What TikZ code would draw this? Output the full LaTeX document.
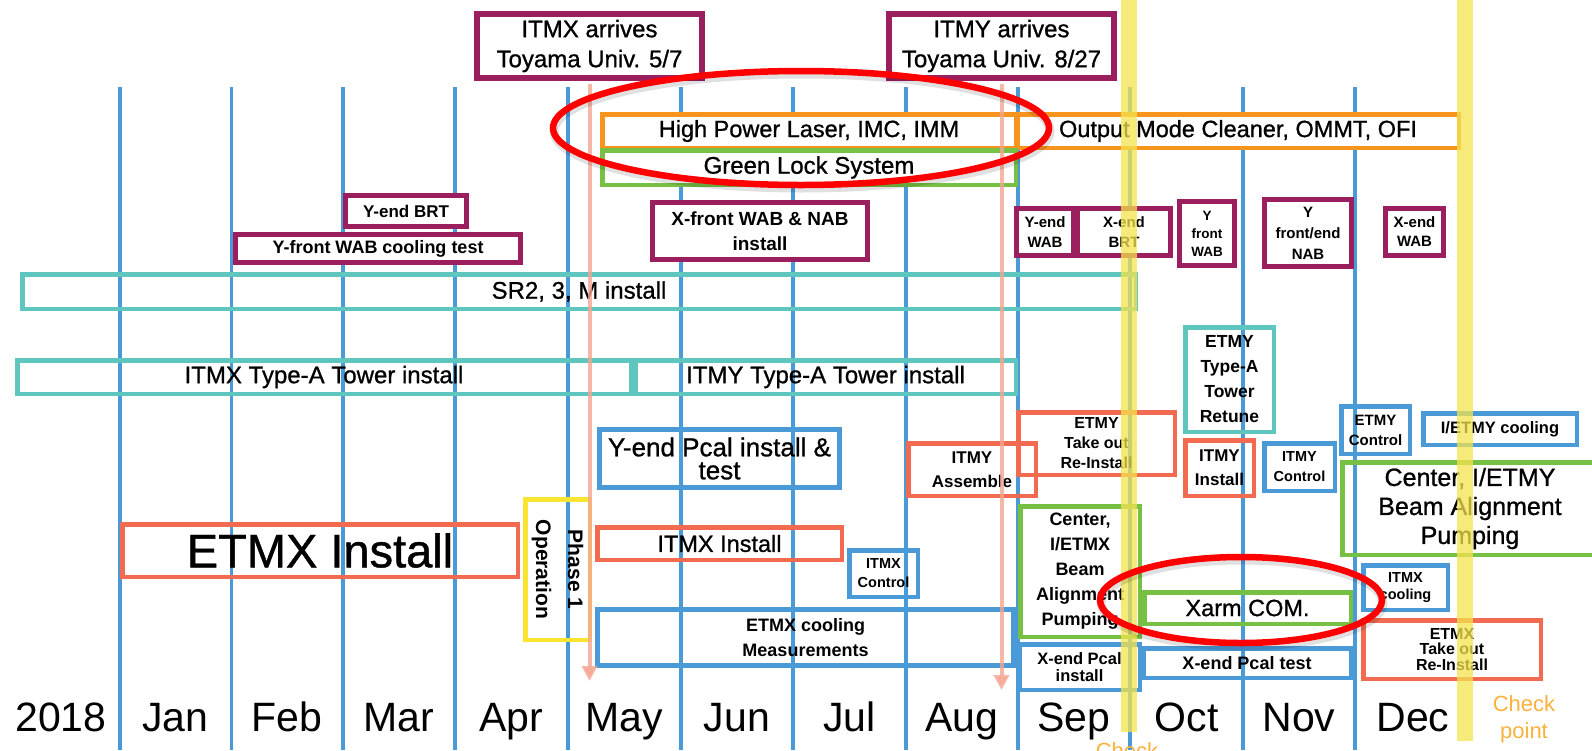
\documentclass[tikz,border=0pt]{standalone}
\usepackage{fontspec}
\setmainfont{Liberation Sans}
\newfontfamily\medfont{Liberation Sans}[FakeBold=0.9]
\usetikzlibrary{arrows.meta}
\definecolor{mblue}{RGB}{74,154,216}
\definecolor{mpurple}{RGB}{155,31,95}
\definecolor{morange}{RGB}{247,148,29}
\definecolor{mgreen}{RGB}{118,192,67}
\definecolor{mteal}{RGB}{94,197,191}
\definecolor{mcoral}{RGB}{242,106,80}
\definecolor{mybox}{RGB}{248,228,49}
\definecolor{msalmon}{RGB}{246,165,145}
\definecolor{mbar}{RGB}{244,227,78}
\definecolor{mcheck}{RGB}{251,178,60}
\definecolor{mred}{RGB}{255,0,0}
\begin{document}
\begin{tikzpicture}[x=1pt,y=-1pt,
  box/.style={draw, rectangle, inner sep=0pt, line width=4.5pt, align=center, text=black},
  pbox/.style={box, draw=mpurple, fill=white, line width=5pt},
  obox/.style={box, draw=morange, fill=white},
  gbox/.style={box, draw=mgreen},
  tbox/.style={box, draw=mteal},
  bbox/.style={box, draw=mblue},
  cbox/.style={box, draw=mcoral},
  ybox/.style={box, draw=mybox},
  monthline/.style={mblue, line width=3.5pt},
  month/.style={anchor=base, font=\fontsize{41}{43}\selectfont},
  salarrow/.style={msalmon, line width=4pt, opacity=0.8, shorten <=3pt, -{Triangle[width=15pt,length=15pt]}},
  bar/.style={fill=mbar, opacity=0.75},
  ring/.style={mred, line width=6.5pt},
  ringshadow/.style={black, opacity=0.12, line width=9pt},
  check/.style={text=mcheck, align=center, font=\fontsize{22}{27}\selectfont}
]
\useasboundingbox (0,0) rectangle (1592,750);
\clip (0,0) rectangle (1592,750);
\fill[white] (0,0) rectangle (1592,750);

% month grid lines
\foreach \x in {120,231.5,343,455,568,681,793,906,1018,1130,1243,1355}
  \draw[monthline] (\x,87) -- (\x,750);

% arrival boxes
\node[pbox, line width=6pt, minimum width=225pt, minimum height=64pt, font=\medfont\fontsize{24}{30}\selectfont] (itmxarr) at (589.5,46) {ITMX arrives\\Toyama Univ. 5/7};
\node[pbox, line width=6pt, minimum width=225pt, minimum height=64pt, font=\medfont\fontsize{24}{30}\selectfont] (itmyarr) at (1001.5,46) {ITMY arrives\\Toyama Univ. 8/27};

% orange / green top rows
\node[obox, minimum width=413.5pt, minimum height=33.5pt, font=\medfont\fontsize{23.5}{26}\selectfont] (hpl) at (809,131) {High Power Laser, IMC, IMM};
\node[obox, minimum width=441.5pt, minimum height=33.5pt, font=\medfont\fontsize{23.5}{26}\selectfont] (omc) at (1238,131) {Output Mode Cleaner, OMMT, OFI};
\node[gbox, fill=white, minimum width=413.5pt, minimum height=34.5pt, font=\medfont\fontsize{24}{26}\selectfont] (gls) at (809,167.5) {Green Lock System};

% purple boxes
\node[pbox, minimum width=121pt, minimum height=31pt, font=\bfseries\fontsize{17}{20}\selectfont] (yendbrt) at (406,211) {Y-end BRT};
\node[pbox, minimum width=285pt, minimum height=28pt, font=\bfseries\fontsize{18}{21}\selectfont] (yfrontcool) at (378,248.5) {Y-front WAB cooling test};
\node[pbox, minimum width=215pt, minimum height=57pt, font=\bfseries\fontsize{19}{25}\selectfont] (xfront) at (760,231) {X-front WAB \& NAB\\install};
\node[pbox, minimum width=57pt, minimum height=47pt, font=\bfseries\fontsize{15}{20}\selectfont] (yendwab) at (1045,232) {Y-end\\WAB};
\node[pbox, minimum width=93pt, minimum height=47pt, font=\bfseries\fontsize{15}{20}\selectfont] (xendbrt) at (1124,232) {X-end\\BRT};
\node[pbox, minimum width=55pt, minimum height=64pt, font=\bfseries\fontsize{13.5}{18}\selectfont] (yfwab) at (1207,233.5) {Y\\front\\WAB};
\node[pbox, minimum width=87pt, minimum height=67pt, font=\bfseries\fontsize{15}{21}\selectfont] (yfnab) at (1308,233) {Y\\front/end\\NAB};
\node[pbox, minimum width=58pt, minimum height=47pt, font=\bfseries\fontsize{15}{19}\selectfont] (xendwab) at (1414.5,232) {X-end\\WAB};

% teal boxes
\node[tbox, minimum width=1113.5pt, minimum height=34.5pt, font=\medfont\fontsize{24}{26}\selectfont] (sr2) at (579,291.5) {SR2, 3, M install};
\node[tbox, minimum width=613.5pt, minimum height=33.5pt, font=\medfont\fontsize{24}{26}\selectfont] (itmxt) at (324,377) {ITMX Type-A Tower install};
\node[tbox, minimum width=380.5pt, minimum height=33.5pt, font=\medfont\fontsize{24}{26}\selectfont] (itmyt) at (825.5,377) {ITMY Type-A Tower install};
\node[tbox, minimum width=88.5pt, minimum height=104.5pt, font=\bfseries\fontsize{17.5}{25}\selectfont] (etmytower) at (1229.5,379.5) {ETMY\\Type-A\\Tower\\Retune};

% blue boxes
\node[bbox, line width=5pt, minimum width=240pt, minimum height=58pt, font=\medfont\fontsize{26}{23}\selectfont] (yendpcal) at (719.5,458.5) {Y-end Pcal install \&\\test};
\node[bbox, minimum width=70.5pt, minimum height=47.5pt, font=\bfseries\fontsize{14.5}{20}\selectfont] (itmyctrl) at (1299.5,467) {ITMY\\Control};
\node[bbox, minimum width=68.5pt, minimum height=47.5pt, font=\bfseries\fontsize{15}{20}\selectfont] (etmyctrl) at (1375.5,430) {ETMY\\Control};
\node[bbox, minimum width=153.5pt, minimum height=31.5pt, font=\bfseries\fontsize{16.5}{20}\selectfont] (ietmycool) at (1500,429) {I/ETMY cooling};
\node[bbox, minimum width=84.5pt, minimum height=44.5pt, font=\bfseries\fontsize{14.5}{17}\selectfont] (itmxcool) at (1405.5,587.5) {ITMX\\cooling};
\node[bbox, minimum width=207.5pt, minimum height=29.5pt, font=\bfseries\fontsize{18}{21}\selectfont] (xpcaltest) at (1247,663) {X-end Pcal test};
\node[bbox, minimum width=120.5pt, minimum height=45.5pt, font=\bfseries\fontsize{16.5}{17}\selectfont] (xpcalinst) at (1079.5,667) {X-end Pcal\\install};
\node[bbox, line width=5pt, minimum width=416pt, minimum height=56pt, font=\bfseries\fontsize{18}{25}\selectfont] (etmxcoolm) at (805.5,637.5) {ETMX cooling\\Measurements};
\node[bbox, minimum width=68.5pt, minimum height=46.5pt, font=\bfseries\fontsize{14.5}{19}\selectfont] (itmxctrl) at (883.5,573.5) {ITMX\\Control};

% green boxes
\node[gbox, minimum width=206.5pt, minimum height=31.5pt, font=\medfont\fontsize{23.5}{26}\selectfont] (xarm) at (1247.5,608) {Xarm COM.};
\node[gbox, minimum width=119.5pt, minimum height=130.5pt, font=\bfseries\fontsize{18}{25}\selectfont] (centerx) at (1080,571.5) {Center,\\I/ETMX\\Beam\\Alignment\\Pumping};
\node[gbox, minimum width=255.5pt, minimum height=92.5pt, font=\medfont\fontsize{25}{29}\selectfont] (centery) at (1470,508.5) {Center, I/ETMY\\Beam Alignment\\Pumping};

% coral boxes
\node[cbox, minimum width=395.5pt, minimum height=52.5pt, font=\medfont\fontsize{47}{50}\selectfont] (etmxinst) at (320,550.5) {ETMX Install};
\node[cbox, minimum width=244.5pt, minimum height=32.5pt, font=\medfont\fontsize{23.5}{26}\selectfont] (itmxinst) at (719.5,543.5) {ITMX Install};
\node[cbox, minimum width=127.5pt, minimum height=52.5pt, font=\bfseries\fontsize{17}{24}\selectfont] (itmyasm) at (972,469.5) {ITMY\\Assemble};
\node[cbox, minimum width=156.5pt, minimum height=62.5pt, font=\bfseries\fontsize{16}{20}\selectfont] (etmytake) at (1096.5,443.5) {ETMY\\Take out\\Re-Install};
\node[cbox, minimum width=68.5pt, minimum height=55.5pt, font=\bfseries\fontsize{17}{24}\selectfont] (itmyinst) at (1219.5,468) {ITMY\\Install};
\node[cbox, minimum width=177.5pt, minimum height=58.5pt, font=\bfseries\fontsize{16}{15.5}\selectfont] (etmxtake) at (1452,649.5) {ETMX\\Take out\\Re-Install};

% phase 1 operation
\node[ybox, rotate=-90, minimum width=140.5pt, minimum height=64.5pt, font=\bfseries\fontsize{21}{32}\selectfont] (phase1) at (557.5,569.5) {Phase 1\\Operation};

% month labels
\node[month] (y2018) at (61,731) {2018};
\node[month] (jan) at (175.5,731) {Jan};
\node[month] (feb) at (287,731) {Feb};
\node[month] (mar) at (399,731) {Mar};
\node[month] (apr) at (511.5,731) {Apr};
\node[month] (may) at (624.5,731) {May};
\node[month] (jun) at (737,731) {Jun};
\node[month] (jul) at (849.5,731) {Jul};
\node[month] (aug) at (962,731) {Aug};
\node[month] (sep) at (1074,731) {Sep};
\node[month] (oct) at (1186.5,731) {Oct};
\node[month] (nov) at (1299,731) {Nov};
\node[month] (dec) at (1413,731) {Dec};

% arrival arrows
\coordinate (a1end) at (589.5,681);
\coordinate (a2end) at (1001.5,690);
\draw[salarrow] (itmxarr.south) -- (a1end);
\draw[salarrow] (itmyarr.south) -- (a2end);

% check point bars
\fill[bar] (1121,0) rectangle (1137,732);
\fill[bar] (1457,0) rectangle (1473,741);
\node[check] (chk1) at (1127,766) {Check\\point};
\node[check] (chk2) at (1524,719.5) {Check\\point};

% red highlight rings
\draw[ringshadow] (802,131) ellipse [x radius=248pt, y radius=57pt];
\draw[ring] (801,128) ellipse [x radius=248pt, y radius=57pt];
\draw[ringshadow] (1242,603) ellipse [x radius=141pt, y radius=43pt];
\draw[ring] (1241,600) ellipse [x radius=141pt, y radius=43pt];
\end{tikzpicture}
\end{document}
